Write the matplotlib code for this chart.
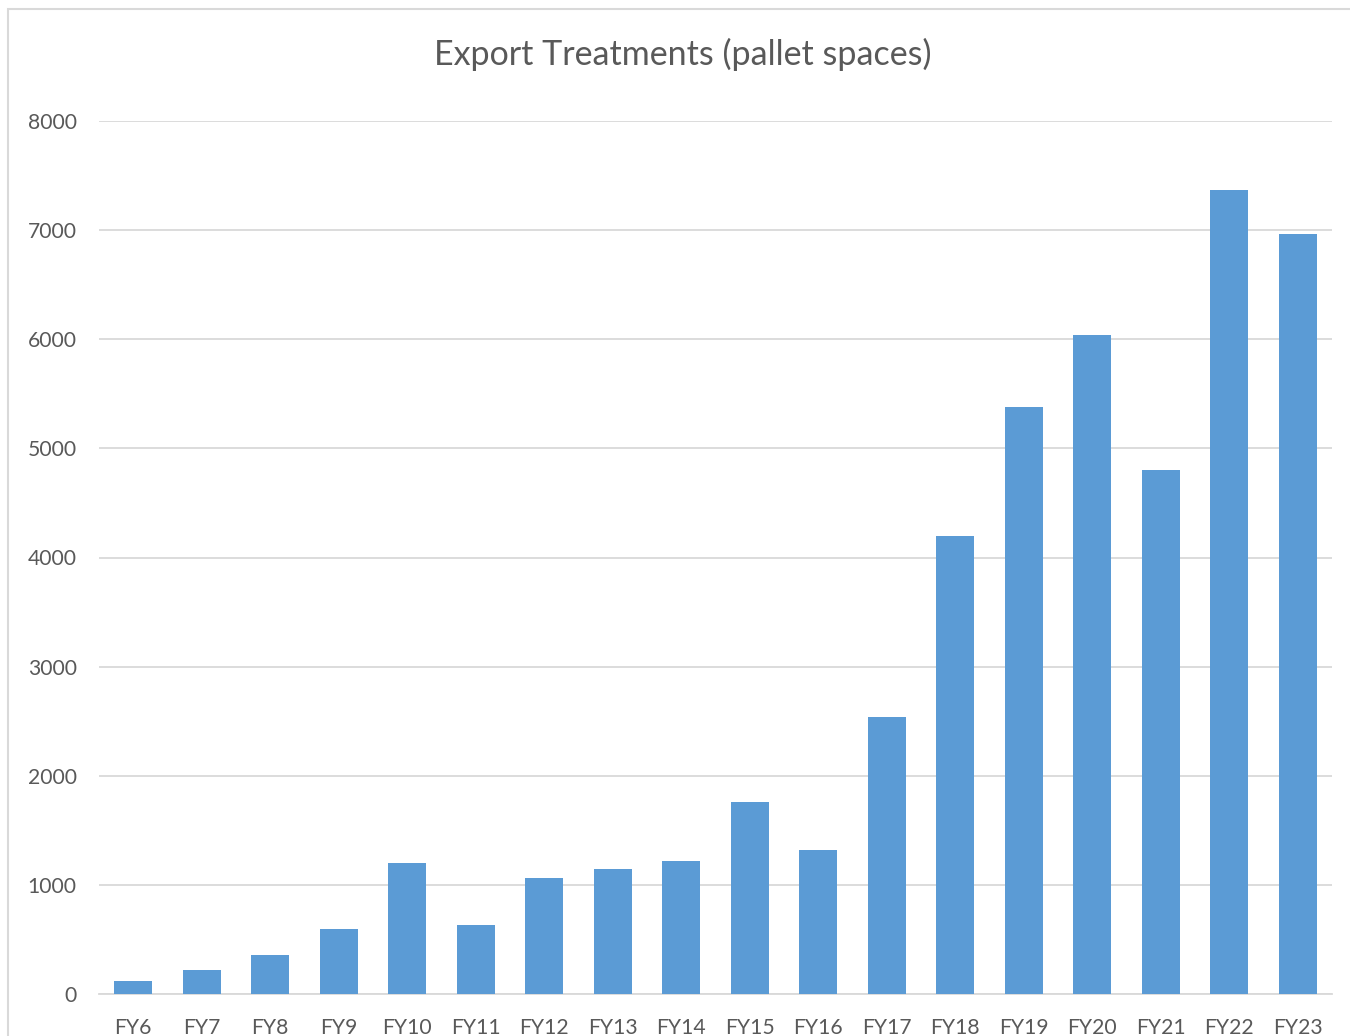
import matplotlib.pyplot as plt
from matplotlib.patches import Rectangle

# Data
years = ["FY6", "FY7", "FY8", "FY9", "FY10", "FY11", "FY12", "FY13", "FY14",
         "FY15", "FY16", "FY17", "FY18", "FY19", "FY20", "FY21", "FY22", "FY23"]
pallets = [120, 220, 360, 600, 1200, 630, 1060, 1150, 1220,
           1760, 1320, 2540, 4200, 5380, 6040, 4800, 7370, 6960]
yticks = [0, 1000, 2000, 3000, 4000, 5000, 6000, 7000, 8000]

plt.rcParams['font.family'] = ['Lato', 'DejaVu Sans']

W, H = 1350, 1036
fig = plt.figure(figsize=(W / 100, H / 100), dpi=100)
ax = fig.add_axes([99 / W, 1 - 994 / H, (1332 - 99) / W, (994 - 121) / H])

x = range(len(years))
ax.bar(x, pallets, width=0.56, color='#5b9bd5', zorder=3)

ax.set_xlim(-0.5, len(years) - 0.5)
ax.set_ylim(0, 8000)
ax.set_yticks(yticks)
ax.set_xticks(list(x))
ax.set_xticklabels(years)

ax.grid(axis='y', color='#d9d9d9', linewidth=1.3, zorder=0)
for s in ['top', 'right', 'left']:
    ax.spines[s].set_visible(False)
ax.spines['bottom'].set_color('#d9d9d9')
ax.spines['bottom'].set_linewidth(1.3)
ax.tick_params(axis='both', length=0, labelsize=15.2, colors='#595959')
ax.tick_params(axis='y', pad=16)
ax.tick_params(axis='x', pad=17)

fig.text(683 / W, 1 - 54 / H, "Export Treatments (pallet spaces)",
         ha='center', va='center', fontsize=24.5, color='#595959')

# chart area border
fig.patches.append(Rectangle((8 / W, -0.1), 1.2, 1.1 - 9 / H,
                             transform=fig.transFigure, fill=False,
                             edgecolor='#d9d9d9', linewidth=1.5))

fig.savefig('out.png', dpi=100)
